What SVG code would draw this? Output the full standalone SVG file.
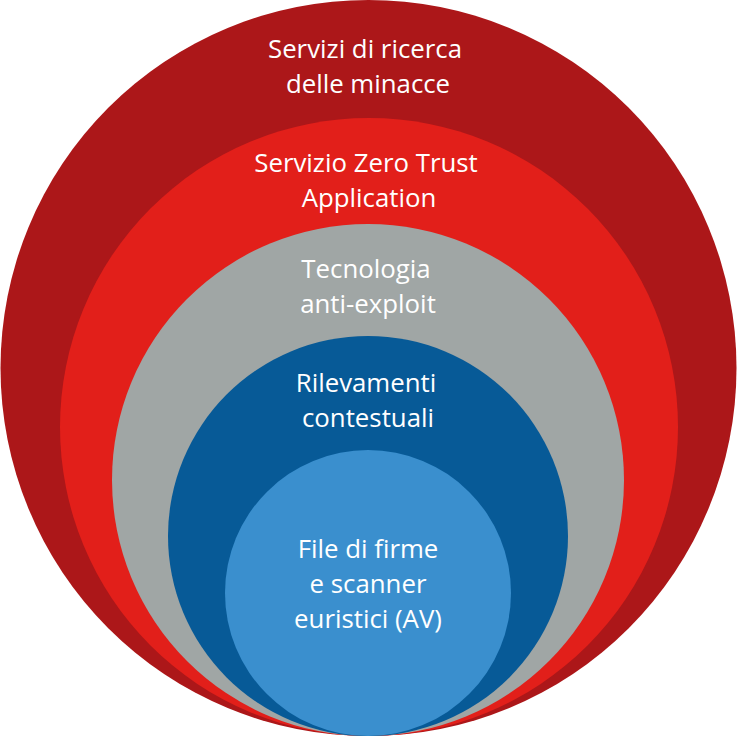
<svg xmlns="http://www.w3.org/2000/svg" width="737" height="736" viewBox="0 0 737 736">
<style>
text{font-family:"Open Sans","Noto Sans","Liberation Sans",sans-serif;font-size:25.8px;fill:#fff;text-anchor:middle}
</style>
<g id="ring-threat"><circle cx="368.5" cy="368" r="368" fill="#AC1719"/><text x="365" y="58">Servizi di ricerca</text><text x="368" y="93">delle minacce</text></g>
<g id="ring-zerotrust"><circle cx="369" cy="427" r="309" fill="#E21F1A"/><text x="366" y="172">Servizio Zero Trust</text><text x="369" y="207">Application</text></g>
<g id="ring-antiexploit"><circle cx="368" cy="480" r="256" fill="#A0A6A5"/><text x="366" y="278">Tecnologia</text><text x="368" y="313">anti-exploit</text></g>
<g id="ring-context"><circle cx="368" cy="536" r="200" fill="#075A97"/><text x="366" y="392">Rilevamenti</text><text x="368" y="427">contestuali</text></g>
<g id="ring-av"><circle cx="368" cy="593" r="143" fill="#3A8FCE"/><text x="368" y="558">File di firme</text><text x="368" y="593">e scanner</text><text x="368" y="628">euristici (AV)</text></g>
<g id="connectors"/>
</svg>
